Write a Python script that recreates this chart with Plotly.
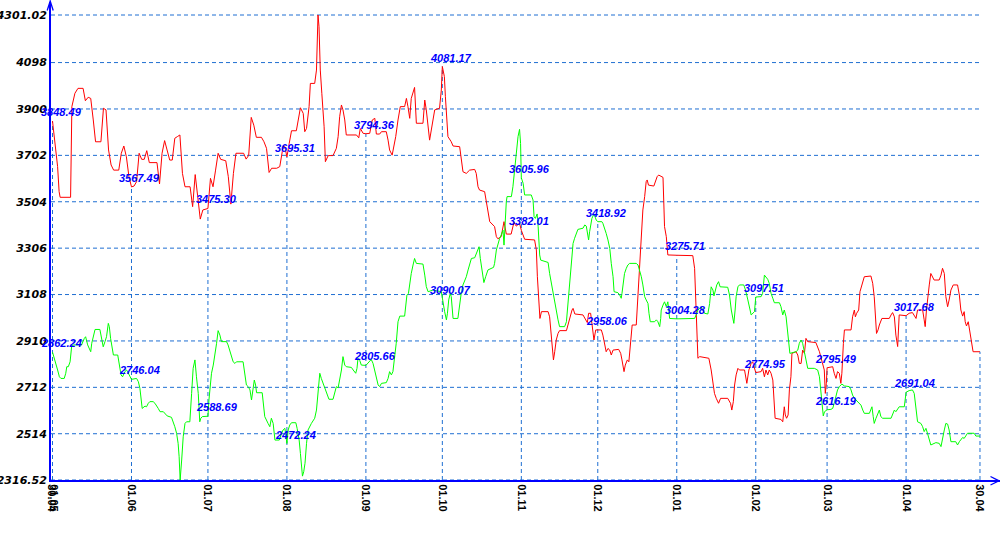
import pandas as pd
import plotly.graph_objects as go

# ---------------- data (day = days since 01.05.2010) ----------------
BASE = pd.Timestamp("2010-05-01")

red_day = [0, 1, 2, 2.6, 3, 7.1, 7.6, 8.8, 10, 12, 12.9, 14, 15, 16, 16.9, 19, 20, 21, 22, 23, 24, 26, 27, 28, 29, 30,
           31, 32, 33, 34, 35, 36, 37, 38, 41, 42, 43, 44, 45, 46, 47, 48, 49, 50, 51, 52, 54, 55, 56, 57, 58, 59, 60,
           61, 62, 63, 64, 65, 66, 68, 69, 70, 71, 72, 75, 76, 77, 78, 79, 80, 82, 83, 84, 85, 86, 88, 89.2, 90.5, 91.2,
           92, 92.9, 93.8, 95.7, 96.4, 97.3, 98.4, 99, 99.7, 100.7, 101.2, 102.9, 103.6, 104.2, 104.6, 105.1, 105.7,
           106.6, 107.1, 108.2, 110.1, 111.4, 112.1, 112.7, 113.4, 114, 114.7, 115.3, 119.3, 120.2, 120.8, 121.9,
           123, 124.5, 125.5, 126.5, 127.1, 128.4, 129.1, 131, 131.7, 132.3, 133.3, 134, 134.7, 135.6, 136.5, 138.2,
           138.9, 139.5, 140.2, 140.8, 142.1, 142.8, 145.4, 146.1, 146.7, 148, 148.7, 149.3, 150, 151.9, 152.6,
           153, 153.8, 154.2, 154.6, 155.2, 156.5, 157.2, 159.8, 160.7, 161.1, 162.4, 163.7, 165.7, 166.3, 167,
           167.6, 169.6, 170.2, 170.9, 171.6, 173.5, 174.2, 174.8, 176.1, 177.2, 178.1, 180, 181.1, 182, 183.3,
           184, 185.3, 189.2, 189.9, 190.3, 190.8, 191.3, 191.9, 194.5, 195.1, 195.8, 196.2, 196.6, 197.1, 197.7,
           198.4, 199, 201.7, 202.3, 203, 203.9, 204.3, 205, 208.2, 208.9, 209.9, 210.4, 211.2, 211.7, 212.5, 213.2,
           214, 215.4, 216, 216.7, 217.3, 218, 218.7, 219.3, 220, 222.2, 223, 223.5, 224.3, 224.8, 225.6, 226.2,
           226.9, 227.5, 229.1, 229.8, 230.4, 231.1, 231.7, 232.4, 233, 233.4, 233.9, 236, 236.6, 237.3, 237.9,
           239.6, 240, 240.2, 240.9, 241.5, 245, 251.3, 252, 252.4, 252.8, 253.3, 254, 257.6, 258.5, 259.2, 259.8,
           260.5, 261.4, 262.2, 265, 266.1, 266.6, 267.2, 267.7, 268.3, 269, 269.6, 271.6, 272.5, 273.3, 274.2,
           274.8, 276, 278.1, 278.7, 279.4, 280, 280.7, 281.3, 282, 282.7, 283.3, 283.6, 285.9, 286.6, 287.2, 287.6,
           288.1, 288.7, 289.2, 289.8, 290.2, 291.8, 292.5, 293.1, 293.8, 294.4, 295.1, 295.7, 296.4, 299.6, 301,
           302.3, 302.9, 303.3, 303.7, 304, 306.2, 306.8, 307.5, 308.1, 308.8, 309.4, 309.8, 310.4, 310.8, 313.4,
           314, 314.7, 315.1, 315.6, 316.4, 316.9, 317.7, 318.6, 321.2, 321.9, 322.5, 322.9, 323.4, 324, 324.5,
           325.5, 328.4, 329.1, 329.7, 330.4, 331, 331.7, 332.1, 332.3, 335, 336.2, 337.5, 338.9, 339.5, 341.5,
           342.1, 342.5, 343, 343.6, 344.1, 344.7, 345.4, 346, 348, 348.7, 349.3, 350, 350.6, 351.3, 351.9, 352.6,
           353.5, 355.2, 355.9, 356.5, 357.2, 357.8, 358.2, 358.7, 359.4, 359.8, 360.4, 360.8, 361.3, 364]
red_val = [3848.49, 3753, 3654, 3547, 3523, 3523, 3910, 3967, 3988, 3988, 3935, 3950, 3945, 3853, 3760, 3760, 3903,
           3896, 3725, 3661, 3639, 3639, 3711, 3742, 3696, 3611,
           3567.49, 3571, 3590, 3711, 3685, 3685, 3722, 3671, 3671, 3580, 3711, 3765, 3725, 3682, 3682, 3775, 3782,
           3789, 3625, 3568, 3568, 3483, 3620, 3526, 3430, 3469, 3472,
           3475.30, 3604, 3568, 3639, 3711, 3685, 3679, 3611, 3494, 3625, 3711, 3711, 3686, 3702, 3864, 3831, 3779,
           3779, 3760, 3732, 3629, 3647, 3647, 3654, 3739, 3739,
           3695.31, 3753, 3807, 3807, 3853, 3905, 3881, 3803, 3817, 3910, 4009, 4009, 4066, 4301.02, 4251, 4066, 3967,
           3824, 3675, 3701, 3701, 3732, 3782, 3867, 3917, 3896, 3853, 3789, 3789, 3777, 3817, 3796,
           3794.36, 3796, 3853, 3860, 3793, 3793, 3803, 3803, 3767, 3725, 3703, 3739, 3782, 3853, 3910, 3910,
           3945, 3910, 3860, 3945, 3992, 3839, 3839, 3938, 3896, 3767, 3817, 3867, 3896, 3903, 3981,
           4081.17, 4038, 3952, 3867, 3782, 3760, 3742, 3739, 3668, 3632, 3625, 3639, 3642, 3625, 3568,
           3554, 3547, 3511, 3469, 3419, 3398, 3355, 3346, 3355, 3419, 3366, 3366, 3416, 3400, 3412,
           3382.01, 3344, 3341, 3298, 3184, 3085, 3006, 3035, 3035, 3013, 2935, 2893, 2829, 2864, 2914,
           2942, 2954, 2954, 2978, 3013, 3042, 3049, 3025, 3021, 3006, 2988, 3028, 3028, 2985, 2914, 2957,
           2958.06, 2957, 2935, 2900, 2864, 2878, 2871, 2850, 2871, 2874, 2857, 2829, 2779, 2807, 2829, 2821,
           2914, 2978, 2978, 3113, 3241, 3398, 3469, 3526, 3590, 3597, 3575, 3571, 3590, 3611, 3618,
           3608, 3469, 3398, 3355, 3277, 3275.71, 3274, 3220, 3099, 2900, 2836, 2843, 2836, 2786, 2729, 2686,
           2665, 2644, 2665, 2665, 2644, 2615, 2651, 2722, 2765, 2793, 2786, 2786, 2729, 2786, 2814,
           2821, 2774.95, 2779, 2793, 2757, 2786, 2765, 2786, 2772, 2743, 2615, 2580, 2575, 2565, 2629, 2594,
           2580, 2594, 2701, 2757, 2857, 2864, 2850, 2814, 2814, 2871, 2857, 2921, 2907, 2903, 2864,
           2814, 2786, 2686, 2729, 2795.49, 2800, 2772, 2750, 2779, 2772, 2729, 2772, 2900, 2957, 2957,
           3013, 3042, 3013, 3028, 3042, 3120, 3156, 3184, 3187, 3156, 3099, 3042, 2942, 2957, 2978,
           3006, 3006, 3021, 3031, 3013, 2935, 2886, 2957, 3021, 3017.68, 3028, 3031, 3006, 3042, 3042,
           3000, 2971, 3042, 3113, 3149, 3198, 3184, 3170, 3170, 3191, 3220, 3198, 3099, 3056, 3085, 3127,
           3149, 3149, 3106, 3042, 3016, 3035, 2992, 2974, 2992, 2964, 2928, 2900, 2864, 2864]

green_day = [0, 1.4, 2, 2.7, 3.3, 4.6, 5.2, 5.6, 6.2, 6.9, 7.5, 8.2, 11.4, 12.5, 13, 13.8, 14.4, 15, 15.4, 16, 16.7,
             18.6, 19.3, 19.9, 20.6, 21.2, 21.9, 22.3, 22.8, 23.5, 23.9, 25.6, 26.1, 26.9, 27.5, 28.4, 29.1, 30.4,
             31, 33, 33.7, 34.3, 34.7, 35.2, 36.3, 36.9, 37.6, 38.2, 39.5, 40.2, 41.5, 42.2, 43.5, 44.1, 45, 46.7,
             47.4, 48, 48.7, 49.3, 49.7, 50.1, 50.7, 51.3, 52, 52.6, 53.9, 54.3, 54.6, 55.2, 55.9, 56.5, 57.2, 57.8,
             58.2, 58.8, 60.6, 61, 61.4, 61.8, 62.4, 63.1, 63.7, 64.4, 65, 65.7, 66.3, 68.3, 68.9, 69.6, 70.3, 70.9,
             71.6, 72.2, 74.8, 75.5, 76.1, 76.8, 77.5, 78.1, 78.8, 79.2, 79.7, 80.1, 82.3, 82.7, 83.3, 84.6, 85.3,
             85.9, 86.6, 87.3, 89, 89.9, 90.5, 91.2, 91.6, 92, 92.5, 93.1, 93.8, 95.5, 96, 96.8, 97.3, 97.8, 98.1,
             98.6, 99.1, 99.7, 100.3, 101.6, 102.9, 103.6, 104.2, 104.9, 105.5, 106.8, 107.5, 108.5, 110.1, 110.8,
             111.4, 112.1, 112.7, 113.4, 114, 114.7, 115.3, 117.3, 118, 119, 119.5, 119.9, 120.6, 121.2, 123, 124.5,
             125.1, 125.8, 126.5, 127.1, 127.8, 128.4, 129.1, 131, 131.7, 132.3, 133, 133.6, 134.3, 134.9, 135.6,
             136.3, 138.2, 138.6, 139.1, 139.7, 140.2, 140.8, 141.5, 142.1, 142.8, 145.4, 146.1, 146.7, 147.4, 149.3,
             152.6, 153, 153.9, 154.6, 155, 155.5, 156.1, 156.5, 157.2, 159.1, 159.8, 160.4, 161.1, 162.4, 163.1,
             163.7, 164.4, 165.7, 167, 167.4, 167.9, 168.7, 169.3, 170, 170.9, 173.1, 173.5, 174.2, 174.8, 175.5,
             176.1, 176.8, 177.2, 177.6, 178.1, 178.4, 180.1, 180.7, 181.4, 182, 182.7, 183.3, 183.7, 184, 184.7,
             185.3, 187.9, 188.6, 189, 189.5, 190.2, 190.6, 190.8, 191.2, 191.6, 194.5, 195.1, 195.8, 196.4, 197.1,
             197.7, 198.4, 199, 201, 201.7, 202.1, 202.6, 203.4, 203.9, 204.3, 204.9, 205.6, 206.2, 208.2, 208.9,
             209.5, 209.9, 210.4, 210.8, 211.2, 211.7, 212.5, 213.4, 214, 215.6, 216, 216.7, 217.3, 218, 218.7,
             219.3, 220, 220.4, 221.9, 222.6, 223.2, 223.5, 223.9, 224.5, 225.2, 225.8, 226.5, 229.1, 229.8, 230.4,
             231.1, 231.7, 232.4, 233, 233.7, 234.1, 234.6, 236.3, 237, 237.6, 238.3, 238.7, 238.9, 239.6, 240.2,
             240.9, 241.5, 241.9, 242.2, 245, 252, 252.6, 253.3, 254.6, 255.3, 255.9, 257.2, 257.9, 258.5, 259.2,
             259.6, 260.1, 260.7, 261.4, 262, 265, 265.7, 266.4, 267, 267.4, 267.9, 268.3, 269, 269.6, 271.3, 272,
             272.9, 273.6, 274.2, 275.5, 276, 278.1, 278.7, 279.4, 280.7, 281.3, 282, 282.7, 283.3, 285.3, 285.9,
             286.6, 287.2, 287.9, 288.5, 288.9, 289.4, 291.8, 292.5, 293.1, 293.8, 294.4, 295.1, 295.7, 296.4, 299,
             300.3, 301, 301.6, 302, 302.5, 303, 304, 305.5, 306.2, 306.8, 307.5, 308.1, 308.8, 309.8, 310.8, 312.7,
             313.4, 314, 314.7, 315.3, 316.6, 317.3, 318, 318.6, 320.6, 321.2, 321.6, 322.1, 322.5, 323.2, 323.8,
             324.5, 325.1, 325.8, 329.1, 329.7, 330.4, 331, 331.7, 332.3, 334.3, 334.6, 335, 336.2, 337.5, 338.2,
             338.9, 339.5, 340.8, 341.5, 342.1, 342.8, 343.4, 344.1, 344.7, 346.7, 348, 348.7, 349.3, 350, 350.6,
             351.3, 351.9, 352.6, 354.5, 355.2, 355.9, 357.2, 357.8, 358.5, 359.1, 361.7, 362.4, 364]
green_val = [2862.24, 2814, 2786, 2757, 2750, 2750, 2772, 2800, 2800, 2821, 2885, 2893, 2893, 2921, 2928, 2893, 2878,
             2864, 2900, 2928, 2959, 2959, 2921, 2885, 2907, 2928, 2985, 2971, 2921, 2878, 2850, 2850, 2814, 2765,
             2757, 2779, 2786, 2757, 2746.04, 2750, 2736, 2708, 2651, 2622, 2632, 2629, 2644, 2651, 2651, 2644,
             2622, 2608, 2608, 2601, 2590, 2584, 2565, 2544, 2516, 2473, 2416, 2316.52, 2402, 2501, 2558, 2565,
             2565, 2615, 2686, 2793, 2829, 2757, 2686, 2565, 2580, 2587, 2587, 2588.69, 2658, 2708, 2772, 2807,
             2843, 2900, 2954, 2935, 2907, 2907, 2893, 2871, 2843, 2821, 2814, 2821, 2821, 2757, 2722, 2715, 2701,
             2658, 2729, 2743, 2722, 2689, 2689, 2637, 2587, 2558, 2544, 2580, 2558, 2487, 2487, 2516, 2530, 2537,
             2494, 2472.24, 2530, 2551, 2561, 2561, 2537, 2487, 2430, 2373, 2333, 2352, 2388, 2473, 2530, 2558,
             2580, 2615, 2686, 2772, 2750, 2715, 2689, 2661, 2661, 2686, 2715, 2710, 2743, 2786, 2843, 2807, 2800,
             2797, 2786, 2772, 2793, 2836, 2826, 2807, 2805.66, 2821, 2831, 2814, 2779, 2743, 2722, 2715, 2729,
             2732, 2750, 2779, 2765, 2779, 2836, 2900, 2992, 3016, 3016, 3070, 3106, 3113, 3156, 3198, 3234, 3262,
             3241, 3238, 3191, 3142, 3120, 3127, 3120, 3090.07, 3035, 3000, 3028, 3085, 3113, 3099, 3006, 3006,
             3070, 3113, 3149, 3184, 3213, 3241, 3262, 3265, 3298, 3312, 3262, 3198, 3159, 3184, 3213, 3224, 3241,
             3298, 3326, 3348, 3362, 3383, 3319, 3412, 3504, 3526, 3526, 3568, 3654, 3725, 3782, 3813, 3753,
             3605.96, 3583, 3533, 3533, 3511, 3440, 3433, 3452, 3398, 3341, 3277, 3255, 3245, 3198, 3156, 3106,
             3070, 3028, 3000, 2971, 2971, 2992, 3042, 3120, 3213, 3270, 3326, 3348, 3369, 3386, 3391, 3405, 3400,
             3376, 3341, 3376, 3412, 3433, 3452, 3426, 3418.92, 3419, 3412, 3391, 3369, 3341, 3305, 3241, 3184,
             3120, 3116, 3106, 3092, 3113, 3156, 3198, 3220, 3234, 3241, 3241, 3234, 3213, 3184, 3149, 3099, 3085,
             3070, 3028, 2992, 2992, 3000, 2992, 2971, 3006, 3042, 3063, 3077, 3056, 3077, 3035, 3006, 3004.28,
             3006, 3021, 3042, 3056, 3042, 3028, 3025, 3070, 3141, 3127, 3102, 3127, 3149, 3163, 3141, 3139, 3106,
             3042, 3000, 2985, 3042, 3099, 3141, 3149, 3149, 3127, 3085, 3042, 3021, 3035, 3097.51, 3099, 3113,
             3191, 3173, 3156, 3113, 3092, 3073, 3073, 3056, 3021, 3042, 3013, 2957, 2900, 2857, 2864, 2871, 2900,
             2914, 2900, 2864, 2829, 2793, 2793, 2786, 2757, 2686, 2629, 2590, 2608, 2616.19, 2618, 2622, 2644,
             2672, 2701, 2715, 2726, 2718, 2715, 2701, 2679, 2665, 2658, 2644, 2636, 2615, 2601, 2601, 2615, 2629,
             2587, 2558, 2580, 2601, 2615, 2587, 2580, 2580, 2594, 2615, 2608, 2622, 2629, 2629, 2658, 2691.04,
             2698, 2701, 2686, 2629, 2565, 2558, 2544, 2523, 2537, 2516, 2487, 2466, 2476, 2473, 2459, 2501, 2530,
             2558, 2555, 2530, 2480, 2480, 2466, 2480, 2498, 2494, 2508, 2516, 2516, 2504, 2504]

label_day = [0, 31, 61, 92, 123, 153, 184, 214, 245, 276, 304, 335]
red_label = [3848.49, 3567.49, 3475.30, 3695.31, 3794.36, 4081.17, 3382.01, 2958.06, 3275.71, 2774.95, 2795.49, 3017.68]
green_label = [2862.24, 2746.04, 2588.69, 2472.24, 2805.66, 3090.07, 3605.96, 3418.92, 3004.28, 3097.51, 2616.19, 2691.04]
end_day = 364

tick_day = [-0.4, 0.3, 31, 61, 92, 123, 153, 184, 214, 245, 276, 304, 335, 364]
tick_text = ["30.04", "01.05", "01.06", "01.07", "01.08", "01.09", "01.10", "01.11", "01.12",
             "01.01", "01.02", "01.03", "01.04", "30.04"]
y_tick_val = [2316.52, 2514, 2712, 2910, 3108, 3306, 3504, 3702, 3900, 4098, 4301.02]
y_tick_text = ["2316.52", "2514", "2712", "2910", "3108", "3306", "3504", "3702", "3900", "4098", "4301.02"]


def d(day):
    return BASE + pd.Timedelta(days=day)


# ---------------- layout geometry ----------------
W, H = 1000, 550
ML, MR, MT, MB = 51, 0, 2, 70
Y_MIN = 2316.52
Y_MAX = 2316.52 + (H - MT - MB) / 465 * (4301.02 - 2316.52)
PX_PER_DAY = 2.548
X0_DAY = (ML - 52.5) / PX_PER_DAY
X1_DAY = (W - MR - 52.5) / PX_PER_DAY

GRID = "#1f6fd2"
AXIS = "#0000ff"

fig = go.Figure()
fig.add_trace(go.Scatter(x=[d(v) for v in red_day], y=red_val, mode="lines",
                         line=dict(color="#ff0000", width=1), hoverinfo="skip", showlegend=False))
fig.add_trace(go.Scatter(x=[d(v) for v in green_day], y=green_val, mode="lines",
                         line=dict(color="#00ff00", width=1), hoverinfo="skip", showlegend=False))

shapes = []
# horizontal dashed grid lines
for yv in y_tick_val:
    shapes.append(dict(type="line", xref="x", yref="y", x0=d(X0_DAY), x1=d(end_day), y0=yv, y1=yv,
                       line=dict(color=GRID, width=1, dash="4px,3px"), layer="below"))
# vertical dashed drop lines
for dd, rv, gv in zip(label_day, red_label, green_label):
    shapes.append(dict(type="line", xref="x", yref="y", x0=d(dd), x1=d(dd), y0=Y_MIN, y1=max(rv, gv),
                       line=dict(color=GRID, width=1, dash="4px,3px"), layer="below"))
shapes.append(dict(type="line", xref="x", yref="y", x0=d(end_day), x1=d(end_day), y0=Y_MIN,
                   y1=max(red_val[-1], green_val[-1]),
                   line=dict(color=GRID, width=1, dash="4px,3px"), layer="below"))

# arrow heads on the axes (pixel -> paper)
PW = W - ML - MR
PH = H - MT - MB


def px(xp, yp):
    return (xp - ML) / PW, (H - MB - yp) / PH


def path(pts):
    s = ""
    for i, (a, b) in enumerate(pts):
        x, y = px(a, b)
        s += ("M" if i == 0 else "L") + f"{x:.5f},{y:.5f} "
    return s


shapes.append(dict(type="path", xref="paper", yref="paper",
                   path=path([(47.2, 10.5), (50.2, 1), (53.2, 10.5)]), line=dict(color=AXIS, width=1.3)))
shapes.append(dict(type="path", xref="paper", yref="paper",
                   path=path([(990.5, 476.5), (999, 480.8), (990.5, 485)]), line=dict(color=AXIS, width=1.3)))

annotations = []
for dd, rv, gv in zip(label_day, red_label, green_label):
    for v in (rv, gv):
        annotations.append(dict(x=d(dd), y=v, xref="x", yref="y", text=f"{v:.2f}", showarrow=False,
                                xanchor="left", yanchor="middle", xshift=-14, yshift=9,
                                font=dict(family="Liberation Sans, Arial", size=11, color="#0000ff",
                                          weight="bold", style="italic")))

fig.update_layout(
    width=W, height=H,
    margin=dict(l=ML, r=MR, t=MT, b=MB, pad=0, autoexpand=False),
    paper_bgcolor="white", plot_bgcolor="white",
    shapes=shapes, annotations=annotations,
    xaxis=dict(type="date", range=[d(X0_DAY), d(X1_DAY)], showgrid=False, zeroline=False, automargin=False,
               showline=True, linecolor=AXIS, linewidth=2,
               tickmode="array", tickvals=[d(v) for v in tick_day], ticktext=tick_text,
               tickangle=90, ticks="", tickfont=dict(family="Liberation Sans, Arial", size=11,
                                                       color="#000000", weight="bold")),
    yaxis=dict(range=[Y_MIN, Y_MAX], showgrid=False, zeroline=False, automargin=False,
               showline=True, linecolor=AXIS, linewidth=2,
               tickmode="array", tickvals=y_tick_val, ticktext=y_tick_text, ticks="",
               tickfont=dict(family="DejaVu Sans", size=11, color="#000000",
                             weight="bold", style="italic")),
)

fig.write_html("out.html")
